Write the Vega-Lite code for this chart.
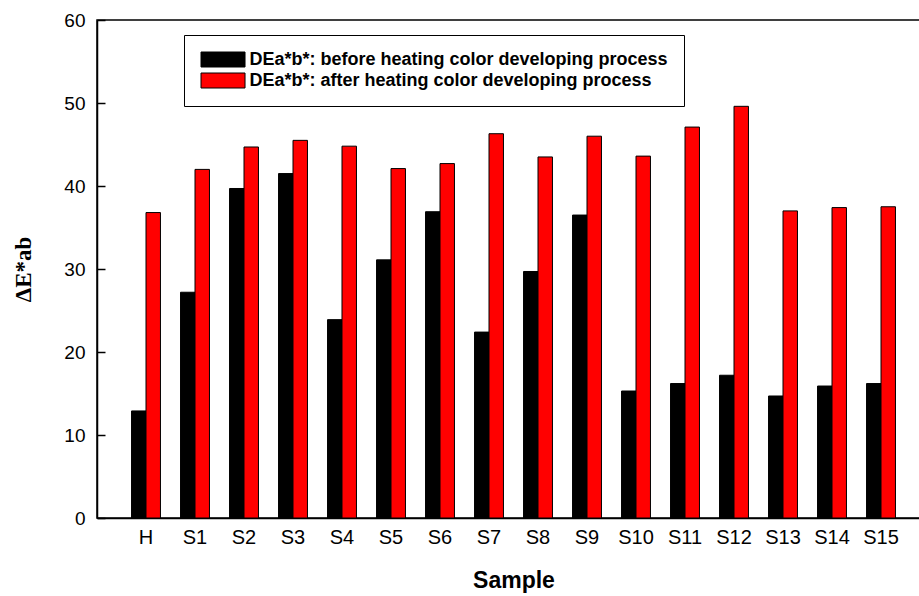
{
  "$schema": "https://vega.github.io/schema/vega-lite/v6.json",
  "width": 833,
  "height": 498,
  "autosize": {"type": "none"},
  "padding": {"left": 97, "top": 20, "right": 0, "bottom": 78},
  "background": "white",
  "config": {
    "font": "Liberation Sans",
    "view": {"stroke": "black", "strokeWidth": 1.5},
    "axis": {"grid": false, "domainColor": "black", "tickColor": "black", "labelColor": "black", "titleColor": "black"}
  },
  "data": {
    "values": [
      {"Sample": "H", "series": "before", "value": 12.9},
      {"Sample": "H", "series": "after", "value": 36.8},
      {"Sample": "S1", "series": "before", "value": 27.2},
      {"Sample": "S1", "series": "after", "value": 42.0},
      {"Sample": "S2", "series": "before", "value": 39.7},
      {"Sample": "S2", "series": "after", "value": 44.7},
      {"Sample": "S3", "series": "before", "value": 41.5},
      {"Sample": "S3", "series": "after", "value": 45.5},
      {"Sample": "S4", "series": "before", "value": 23.9},
      {"Sample": "S4", "series": "after", "value": 44.8},
      {"Sample": "S5", "series": "before", "value": 31.1},
      {"Sample": "S5", "series": "after", "value": 42.1},
      {"Sample": "S6", "series": "before", "value": 36.9},
      {"Sample": "S6", "series": "after", "value": 42.7},
      {"Sample": "S7", "series": "before", "value": 22.4},
      {"Sample": "S7", "series": "after", "value": 46.3},
      {"Sample": "S8", "series": "before", "value": 29.7},
      {"Sample": "S8", "series": "after", "value": 43.5},
      {"Sample": "S9", "series": "before", "value": 36.5},
      {"Sample": "S9", "series": "after", "value": 46.0},
      {"Sample": "S10", "series": "before", "value": 15.3},
      {"Sample": "S10", "series": "after", "value": 43.6},
      {"Sample": "S11", "series": "before", "value": 16.2},
      {"Sample": "S11", "series": "after", "value": 47.1},
      {"Sample": "S12", "series": "before", "value": 17.2},
      {"Sample": "S12", "series": "after", "value": 49.6},
      {"Sample": "S13", "series": "before", "value": 14.7},
      {"Sample": "S13", "series": "after", "value": 37.0},
      {"Sample": "S14", "series": "before", "value": 15.9},
      {"Sample": "S14", "series": "after", "value": 37.4},
      {"Sample": "S15", "series": "before", "value": 16.2},
      {"Sample": "S15", "series": "after", "value": 37.5}
    ]
  },
  "mark": {"type": "bar", "stroke": "black", "strokeWidth": 1},
  "encoding": {
    "x": {
      "field": "Sample",
      "type": "nominal",
      "sort": ["H", "S1", "S2", "S3", "S4", "S5", "S6", "S7", "S8", "S9", "S10", "S11", "S12", "S13", "S14", "S15"],
      "scale": {"paddingInner": 0.41, "paddingOuter": 0.705},
      "axis": {
        "title": "Sample",
        "titleFont": "Liberation Sans",
        "titleFontSize": 23,
        "titleFontWeight": "bold",
        "titlePadding": 22,
        "labelAngle": 0,
        "labelFontSize": 20,
        "labelPadding": 9,
        "ticks": false,
        "domainWidth": 1.5
      }
    },
    "xOffset": {
      "field": "series",
      "type": "nominal",
      "sort": ["before", "after"],
      "scale": {"paddingInner": 0, "paddingOuter": 0}
    },
    "y": {
      "field": "value",
      "type": "quantitative",
      "scale": {"domain": [0, 60], "nice": false},
      "axis": {
        "title": "ΔE*ab",
        "titleFont": "Liberation Serif",
        "titleFontSize": 23,
        "titleFontWeight": "bold",
        "titlePadding": 28,
        "values": [0, 10, 20, 30, 40, 50, 60],
        "labelFontSize": 19,
        "labelPadding": 20,
        "tickSize": -8,
        "tickWidth": 1.5,
        "domainWidth": 1.5
      }
    },
    "color": {
      "field": "series",
      "type": "nominal",
      "sort": ["before", "after"],
      "scale": {"domain": ["before", "after"], "range": ["#000000", "#ff0000"]},
      "legend": {
        "orient": "none",
        "legendX": 87,
        "legendY": 15,
        "title": null,
        "direction": "vertical",
        "strokeColor": "black",
        "fillColor": "white",
        "padding": 15.5,
        "rowPadding": 1,
        "symbolType": "M-1,-1H4.87V1H-1Z",
        "symbolSize": 225,
        "symbolStrokeColor": "black",
        "symbolStrokeWidth": 1,
        "symbolOpacity": 1,
        "labelFont": "Liberation Sans",
        "labelFontSize": 18,
        "labelFontWeight": "bold",
        "labelColor": "black",
        "labelOffset": 32,
        "labelLimit": 0,
        "labelExpr": "datum.value == 'before' ? 'DEa*b*: before heating color developing process' : 'DEa*b*: after heating color developing process'"
      }
    }
  }
}
